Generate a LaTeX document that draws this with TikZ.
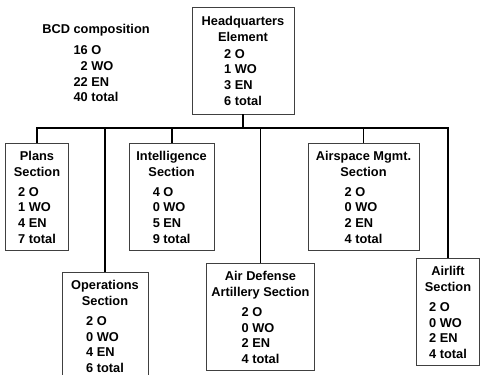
\documentclass[tikz,border=0pt]{standalone}
\usepackage{fontspec}
\setmainfont{Liberation Sans}
\usepackage{tikz}
\usetikzlibrary{positioning}
\newcommand{\staff}[4]{\begin{tabular}[t]{@{}l@{}}#1 O\\#2 WO\\#3 EN\\#4 total\end{tabular}}
\newcommand{\topline}{\rule{0pt}{15pt}}

\begin{document}
\begin{tikzpicture}[x=1pt,y=-1pt,
  font=\fontsize{12.8}{15.7}\selectfont\bfseries,
  unit/.style={draw=black!75,line width=0.7pt,fill=white,align=center,inner sep=0pt,minimum height=107pt},
  link/.style={line width=1.8pt}]
  \useasboundingbox (0,0) rectangle (480,375);
  \node[anchor=north,align=center,inner sep=0pt] (bcd) at (96,24.5)
    {BCD composition\\[5pt]\begin{tabular}[t]{@{}r@{ }l@{}}16&O\\2&WO\\22&EN\\40&total\end{tabular}};
  \node[unit,minimum width=102pt] (hq) at (243,60.5) {\topline Headquarters\\Element\\[1pt]\staff{2}{1}{3}{6}};
  \foreach \n/\x/\y/\w/\ttl/\ofc/\wof/\enl/\tot in {
      plans/37/196.7/63/Plans\\Section/2/1/4/7,
      ops/105/326/86/Operations\\Section/2/0/4/6,
      intel/171.6/196.7/85/Intelligence\\Section/4/0/5/9,
      ada/260.5/317/108/Air Defense\\Artillery Section/2/0/2/4,
      airspace/363.5/196.7/111/Airspace Mgmt.\\Section/2/0/2/4,
      airlift/448/311.8/63/Airlift\\Section/2/0/2/4}
    \node[unit,minimum width=\w pt] (\n) at (\x,\y) {\topline\ttl\\[4.5pt]\staff{\ofc}{\wof}{\enl}{\tot}};
  % tree lines
  \draw[link] (hq.south) -- ++(0,13.3) coordinate (bus);
  \draw[link] (plans.north) |- (bus) -| (airlift.north);
  \foreach \n in {ops,intel,ada,airspace}
    \draw[link] (\n.north) -- (\n.north |- bus);
\end{tikzpicture}
\end{document}
